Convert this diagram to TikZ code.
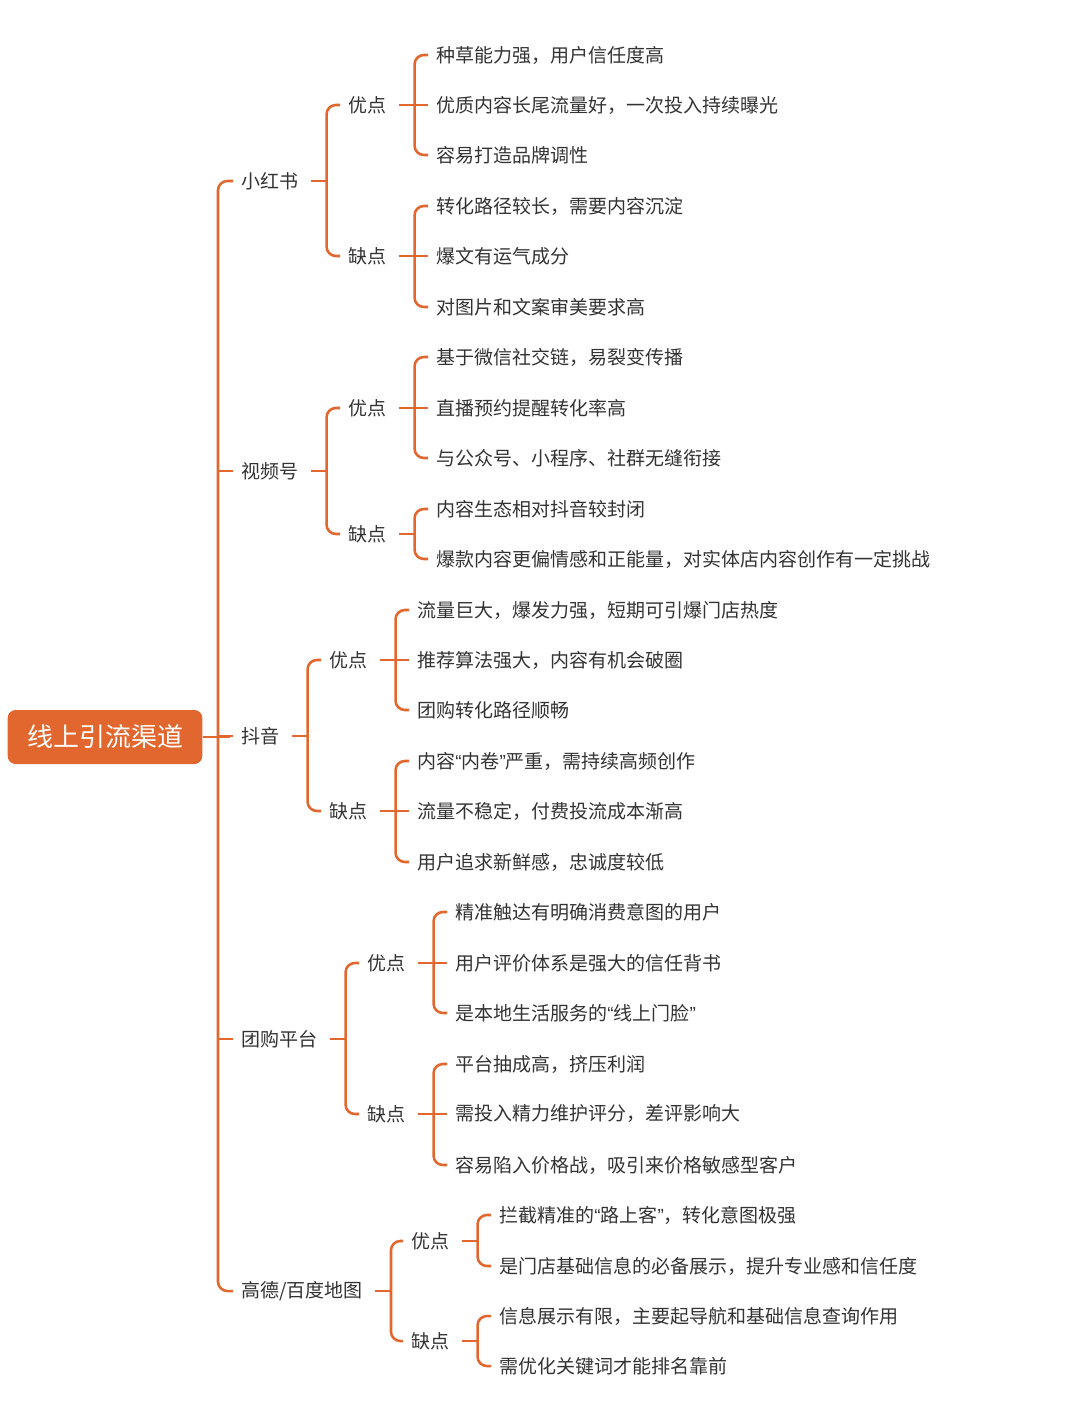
\documentclass[tikz,border=0pt]{standalone}
\usepackage{fontspec}
\setmainfont{Noto Sans CJK SC}
\newfontfamily\qf{Liberation Sans}
\newcommand{\oq}{{\qf “}}
\newcommand{\cq}{{\qf ”}}
\definecolor{org}{HTML}{E2672F}
\definecolor{txt}{HTML}{333333}
\begin{document}
\begin{tikzpicture}[x=0.75pt,y=-0.75pt,
  lbl/.style={anchor=west,inner sep=0pt,text=txt,font=\fontsize{14.25}{16}\selectfont},
  br/.style={draw=org,line width=1.9pt,rounded corners=7pt}]
\useasboundingbox (0,0) rectangle (1080,1416);
\fill[white] (0,0) rectangle (1080,1416);
\node[fill=org,rounded corners=6pt,minimum width=146pt,minimum height=40.5pt,text=white,font=\fontsize{19.5}{22}\selectfont,inner sep=0pt] (root) at (105,737) {线上引流渠道};
\coordinate (rb) at (218,737);
% level 1
\node[lbl] (L1) at (241,181) {小红书};
\node[lbl] (L2) at (241,471) {视频号};
\node[lbl] (L3) at (241,736) {抖音};
\node[lbl] (L4) at (241,1039) {团购平台};
\node[lbl] (L5) at (241,1291) {高德/百度地图};
\draw[br] (root.east) -- ([xshift=9pt]rb);
\foreach \c in {L1,L5}{\draw[br] (rb) |- ([xshift=-6pt]\c.west);}
\foreach \c in {L2,L3,L4}{\draw[br,rounded corners=0pt] (rb|-\c.west) -- ([xshift=-6pt]\c.west);}
% helper macros
\newcommand{\conn}[3]{\coordinate (#1b) at ([xshift=21pt]#1.east);
  \draw[br] ([xshift=9pt]#1.east) -- (#1b);
  \foreach \c in {#2,#3}{\draw[br] (#1b) |- ([xshift=-6pt]\c.west);}}
\newcommand{\connm}[4]{\conn{#1}{#2}{#4}\draw[br] (#1b) -- ([xshift=-6pt]#3.west);}
% level 2
\node[lbl] (A1) at (348,105) {优点};
\node[lbl] (A2) at (348,256) {缺点};
\node[lbl] (B1) at (348,408) {优点};
\node[lbl] (B2) at (348,534) {缺点};
\node[lbl] (C1) at (329,660) {优点};
\node[lbl] (C2) at (329,811) {缺点};
\node[lbl] (D1) at (367,963) {优点};
\node[lbl] (D2) at (367,1114) {缺点};
\node[lbl] (E1) at (411,1241) {优点};
\node[lbl] (E2) at (411,1341) {缺点};
\conn{L1}{A1}{A2}\conn{L2}{B1}{B2}\conn{L3}{C1}{C2}\conn{L4}{D1}{D2}\conn{L5}{E1}{E2}
% leaves
\node[lbl] (a11) at (436,55) {种草能力强，用户信任度高};
\node[lbl] (a12) at (436,105) {优质内容长尾流量好，一次投入持续曝光};
\node[lbl] (a13) at (436,155) {容易打造品牌调性};
\node[lbl] (a21) at (436,206) {转化路径较长，需要内容沉淀};
\node[lbl] (a22) at (436,256) {爆文有运气成分};
\node[lbl] (a23) at (436,307) {对图片和文案审美要求高};
\node[lbl] (b11) at (436,357) {基于微信社交链，易裂变传播};
\node[lbl] (b12) at (436,408) {直播预约提醒转化率高};
\node[lbl] (b13) at (436,458) {与公众号、小程序、社群无缝衔接};
\node[lbl] (b21) at (436,509) {内容生态相对抖音较封闭};
\node[lbl] (b22) at (436,559) {爆款内容更偏情感和正能量，对实体店内容创作有一定挑战};
\node[lbl] (c11) at (417,610) {流量巨大，爆发力强，短期可引爆门店热度};
\node[lbl] (c12) at (417,660) {推荐算法强大，内容有机会破圈};
\node[lbl] (c13) at (417,710) {团购转化路径顺畅};
\node[lbl] (c21) at (417,761) {内容\oq 内卷\cq 严重，需持续高频创作};
\node[lbl] (c22) at (417,811) {流量不稳定，付费投流成本渐高};
\node[lbl] (c23) at (417,862) {用户追求新鲜感，忠诚度较低};
\node[lbl] (d11) at (455,912) {精准触达有明确消费意图的用户};
\node[lbl] (d12) at (455,963) {用户评价体系是强大的信任背书};
\node[lbl] (d13) at (455,1013) {是本地生活服务的\oq 线上门脸\cq};
\node[lbl] (d21) at (455,1064) {平台抽成高，挤压利润};
\node[lbl] (d22) at (455,1114) {需投入精力维护评分，差评影响大};
\node[lbl] (d23) at (455,1165) {容易陷入价格战，吸引来价格敏感型客户};
\node[lbl] (e11) at (499,1215) {拦截精准的\oq 路上客\cq，转化意图极强};
\node[lbl] (e12) at (499,1266) {是门店基础信息的必备展示，提升专业感和信任度};
\node[lbl] (e21) at (499,1316) {信息展示有限，主要起导航和基础信息查询作用};
\node[lbl] (e22) at (499,1366) {需优化关键词才能排名靠前};
\connm{A1}{a11}{a12}{a13}\connm{A2}{a21}{a22}{a23}
\connm{B1}{b11}{b12}{b13}\conn{B2}{b21}{b22}
\connm{C1}{c11}{c12}{c13}\connm{C2}{c21}{c22}{c23}
\connm{D1}{d11}{d12}{d13}\connm{D2}{d21}{d22}{d23}
\conn{E1}{e11}{e12}\conn{E2}{e21}{e22}
\end{tikzpicture}
\end{document}
